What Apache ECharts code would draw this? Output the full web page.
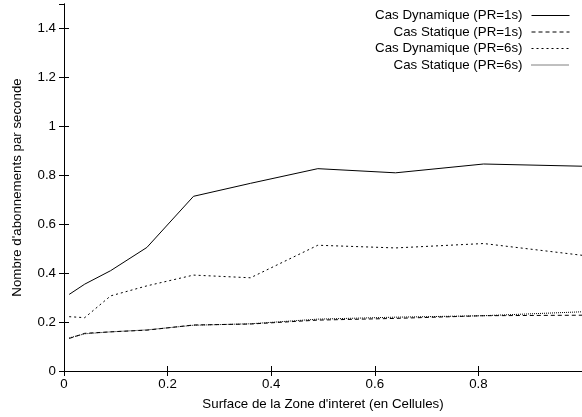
<!DOCTYPE html>
<html>
<head>
<meta charset="utf-8">
<script src="https://cdn.jsdelivr.net/npm/echarts@6/dist/echarts.min.js"></script>
<style>html,body{margin:0;padding:0;background:#fff;}#c{width:582px;height:417px;}</style>
</head>
<body>
<div id="c"></div>
<script>
var xValues = [0.01, 0.04, 0.09, 0.16, 0.25, 0.36, 0.49, 0.64, 0.81, 1.0];
var dyn1 = [0.313, 0.355, 0.41, 0.505, 0.714, 0.767, 0.827, 0.81, 0.846, 0.837];
var stat1 = [0.133, 0.154, 0.16, 0.167, 0.188, 0.192, 0.208, 0.215, 0.226, 0.228];
var dyn6 = [0.222, 0.218, 0.307, 0.348, 0.392, 0.381, 0.514, 0.503, 0.521, 0.473];
var stat6 = [0.135, 0.152, 0.16, 0.168, 0.187, 0.193, 0.212, 0.22, 0.226, 0.242];
var seriesNames = ['Cas Dynamique (PR=1s)', 'Cas Statique (PR=1s)', 'Cas Dynamique (PR=6s)', 'Cas Statique (PR=6s)'];
var xTicks = [0, 0.2, 0.4, 0.6, 0.8];
var yTicks = [0, 0.2, 0.4, 0.6, 0.8, 1, 1.2, 1.4];

function pairs(ys) { return xValues.map(function (x, i) { return [x, ys[i]]; }); }
var FONT = 'Liberation Sans, Arial, Helvetica, sans-serif';
var FS = 13.3;
var chart = echarts.init(document.getElementById('c'));
var axisLineStyle = { color: '#000', width: 1 };
function fmtX(v) { var r = Math.round(v * 10) / 10; return xTicks.indexOf(r) >= 0 && Math.abs(v - 1) > 1e-9 ? String(r) : ''; }
function fmtY(v) { var r = Math.round(v * 10) / 10; return (yTicks.indexOf(r) >= 0) ? String(r) : ''; }
var dashes = ['solid', [4, 3], [2, 3], [1, 1]];
var datas = [dyn1, stat1, dyn6, stat6];
chart.setOption({
  animation: false,
  backgroundColor: '#fff',
  grid: { left: 64, top: 4, width: 520, height: 367, containLabel: false },
  legend: {
    orient: 'vertical', right: 12, top: 9, align: 'right', padding: 0,
    itemWidth: 38, itemHeight: 12, itemGap: 3.5,
    itemStyle: { opacity: 0, color: 'rgba(0,0,0,0)', borderWidth: 0 },
    lineStyle: { width: 1 },
    textStyle: { fontFamily: FONT, fontSize: FS, color: '#000', padding: [0, 4, 0, 0] },
    data: seriesNames
  },
  xAxis: [{
    type: 'value', min: 0, max: 1, interval: 0.2,
    name: 'Surface de la Zone d\'interet (en Cellules)', nameLocation: 'middle', nameGap: 27,
    nameTextStyle: { fontFamily: FONT, fontSize: FS, color: '#000' },
    axisLine: { show: true, lineStyle: axisLineStyle },
    axisTick: { show: true, inside: true, length: 5, lineStyle: axisLineStyle },
    axisLabel: { fontFamily: FONT, fontSize: FS, color: '#000', margin: 7, formatter: fmtX, showMaxLabel: false },
    splitLine: { show: false }
  }, {
    type: 'value', min: 0, max: 1, interval: 0.2, position: 'top',
    axisLine: { show: true, lineStyle: axisLineStyle },
    axisTick: { show: true, inside: true, length: 5, lineStyle: axisLineStyle },
    axisLabel: { show: false }, splitLine: { show: false }
  }],
  yAxis: [{
    type: 'value', min: 0, max: 1.5, interval: 0.2,
    name: 'Nombre d\'abonnements par seconde', nameLocation: 'middle', nameGap: 40,
    nameTextStyle: { fontFamily: FONT, fontSize: FS, color: '#000' },
    axisLine: { show: true, lineStyle: axisLineStyle },
    axisTick: { show: true, inside: true, length: 5, lineStyle: axisLineStyle },
    axisLabel: { fontFamily: FONT, fontSize: FS, color: '#000', margin: 8, formatter: fmtY, showMaxLabel: false },
    splitLine: { show: false }
  }, {
    type: 'value', min: 0, max: 1.5, interval: 0.2, position: 'right',
    axisLine: { show: true, lineStyle: axisLineStyle },
    axisTick: { show: true, inside: true, length: 5, lineStyle: axisLineStyle },
    axisLabel: { show: false }, splitLine: { show: false }
  }],
  series: seriesNames.map(function (n, i) {
    return {
      name: n, type: 'line', xAxisIndex: 0, yAxisIndex: 0,
      data: pairs(datas[i]), symbol: 'none', showSymbol: false,
      lineStyle: { color: '#000', width: 1, type: dashes[i] },
      itemStyle: { color: '#000' },
      emphasis: { disabled: true }
    };
  })
});
</script>
</body>
</html>
